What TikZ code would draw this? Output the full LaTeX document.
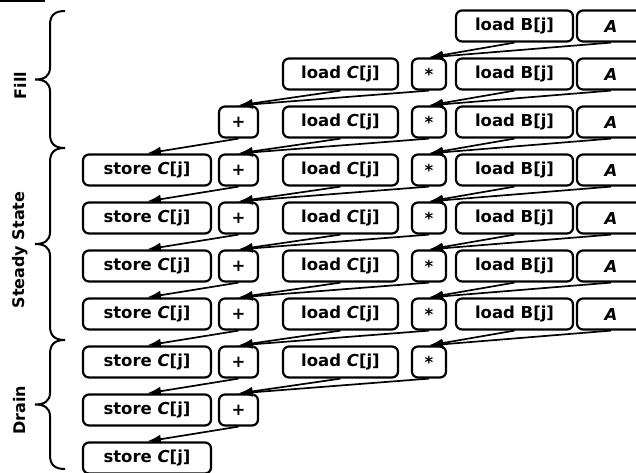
\documentclass[tikz,border=0pt]{standalone}
\usepackage{fontspec}
\setmainfont{DejaVu Sans}
\usetikzlibrary{arrows.meta}
\tikzset{
  op/.style={draw, line width=2.2pt, rounded corners=6pt, minimum height=31pt, inner sep=0pt, font=\fontsize{16.5}{18}\selectfont\bfseries},
  wstore/.style={op, minimum width=128pt},
  wplus/.style={op, minimum width=39pt},
  wloadc/.style={op, minimum width=115pt},
  wmul/.style={op, minimum width=34pt},
  wloadb/.style={op, minimum width=117pt},
  wa/.style={op, minimum width=68pt},
  dep/.style={line width=1.7pt, -{Latex[length=14pt,width=9pt]}},
  brc/.style={line width=2pt},
  phase/.style={rotate=90, font=\fontsize{16}{18}\selectfont\bfseries}
}
\begin{document}
\begin{tikzpicture}[x=1pt,y=-1pt]
\useasboundingbox (0,0) rectangle (636,472);
\fill (0,0) rectangle (45,1.5);
% nodes
\foreach \r [evaluate=\r as \y using 26+48*(\r-1)] in {4,...,10}
  \node[wstore] (st\r) at (147,\y) {store \textit{C}[j]};
\foreach \r [evaluate=\r as \y using 26+48*(\r-1)] in {3,...,9}
  \node[wplus] (pl\r) at (238.5,\y) {+};
\foreach \r [evaluate=\r as \y using 26+48*(\r-1)] in {2,...,8}{
  \node[wloadc] (lc\r) at (340.5,\y) {load \textit{C}[j]};
  \node[wmul] (mu\r) at (429,\y) {*};
}
\foreach \r [evaluate=\r as \y using 26+48*(\r-1)] in {1,...,7}{
  \node[wloadb] (lb\r) at (514.5,\y) {load B[j]};
  \node[wa] (a\r) at (611,\y) {\textit{A}};
}
% dependencies
\foreach \r [evaluate=\r as \p using int(\r-1)] in {2,...,8}{
  \draw[dep] (lb\p.south) -- (mu\r.north);
  \draw[dep] (a\p.south) -- (mu\r.north);
}
\foreach \r [evaluate=\r as \p using int(\r-1)] in {3,...,9}{
  \draw[dep] (lc\p.south) -- (pl\r.north);
  \draw[dep] (mu\p.south) -- (pl\r.north);
}
\foreach \r [evaluate=\r as \p using int(\r-1)] in {4,...,10}
  \draw[dep] (pl\p.south) -- (st\r.north);
% braces
\foreach \t/\b/\nm/\lab in {11/148/fill/Fill, 148/340/steady/Steady State, 340/469/drain/Drain}{
  \pgfmathsetmacro{\m}{(\t+\b)/2}
  \draw[brc] (65,\t) .. controls (55,\t) and (50,\t+4) .. (50,\t+14)
    -- (50,\m-12) .. controls (50,\m-3) and (44,\m) .. (35,\m)
    .. controls (44,\m) and (50,\m+3) .. (50,\m+12)
    -- (50,\b-14) .. controls (50,\b-4) and (55,\b) .. (65,\b);
  \node[phase] (\nm) at (20,\m+6) {\lab};
}
\end{tikzpicture}
\end{document}
